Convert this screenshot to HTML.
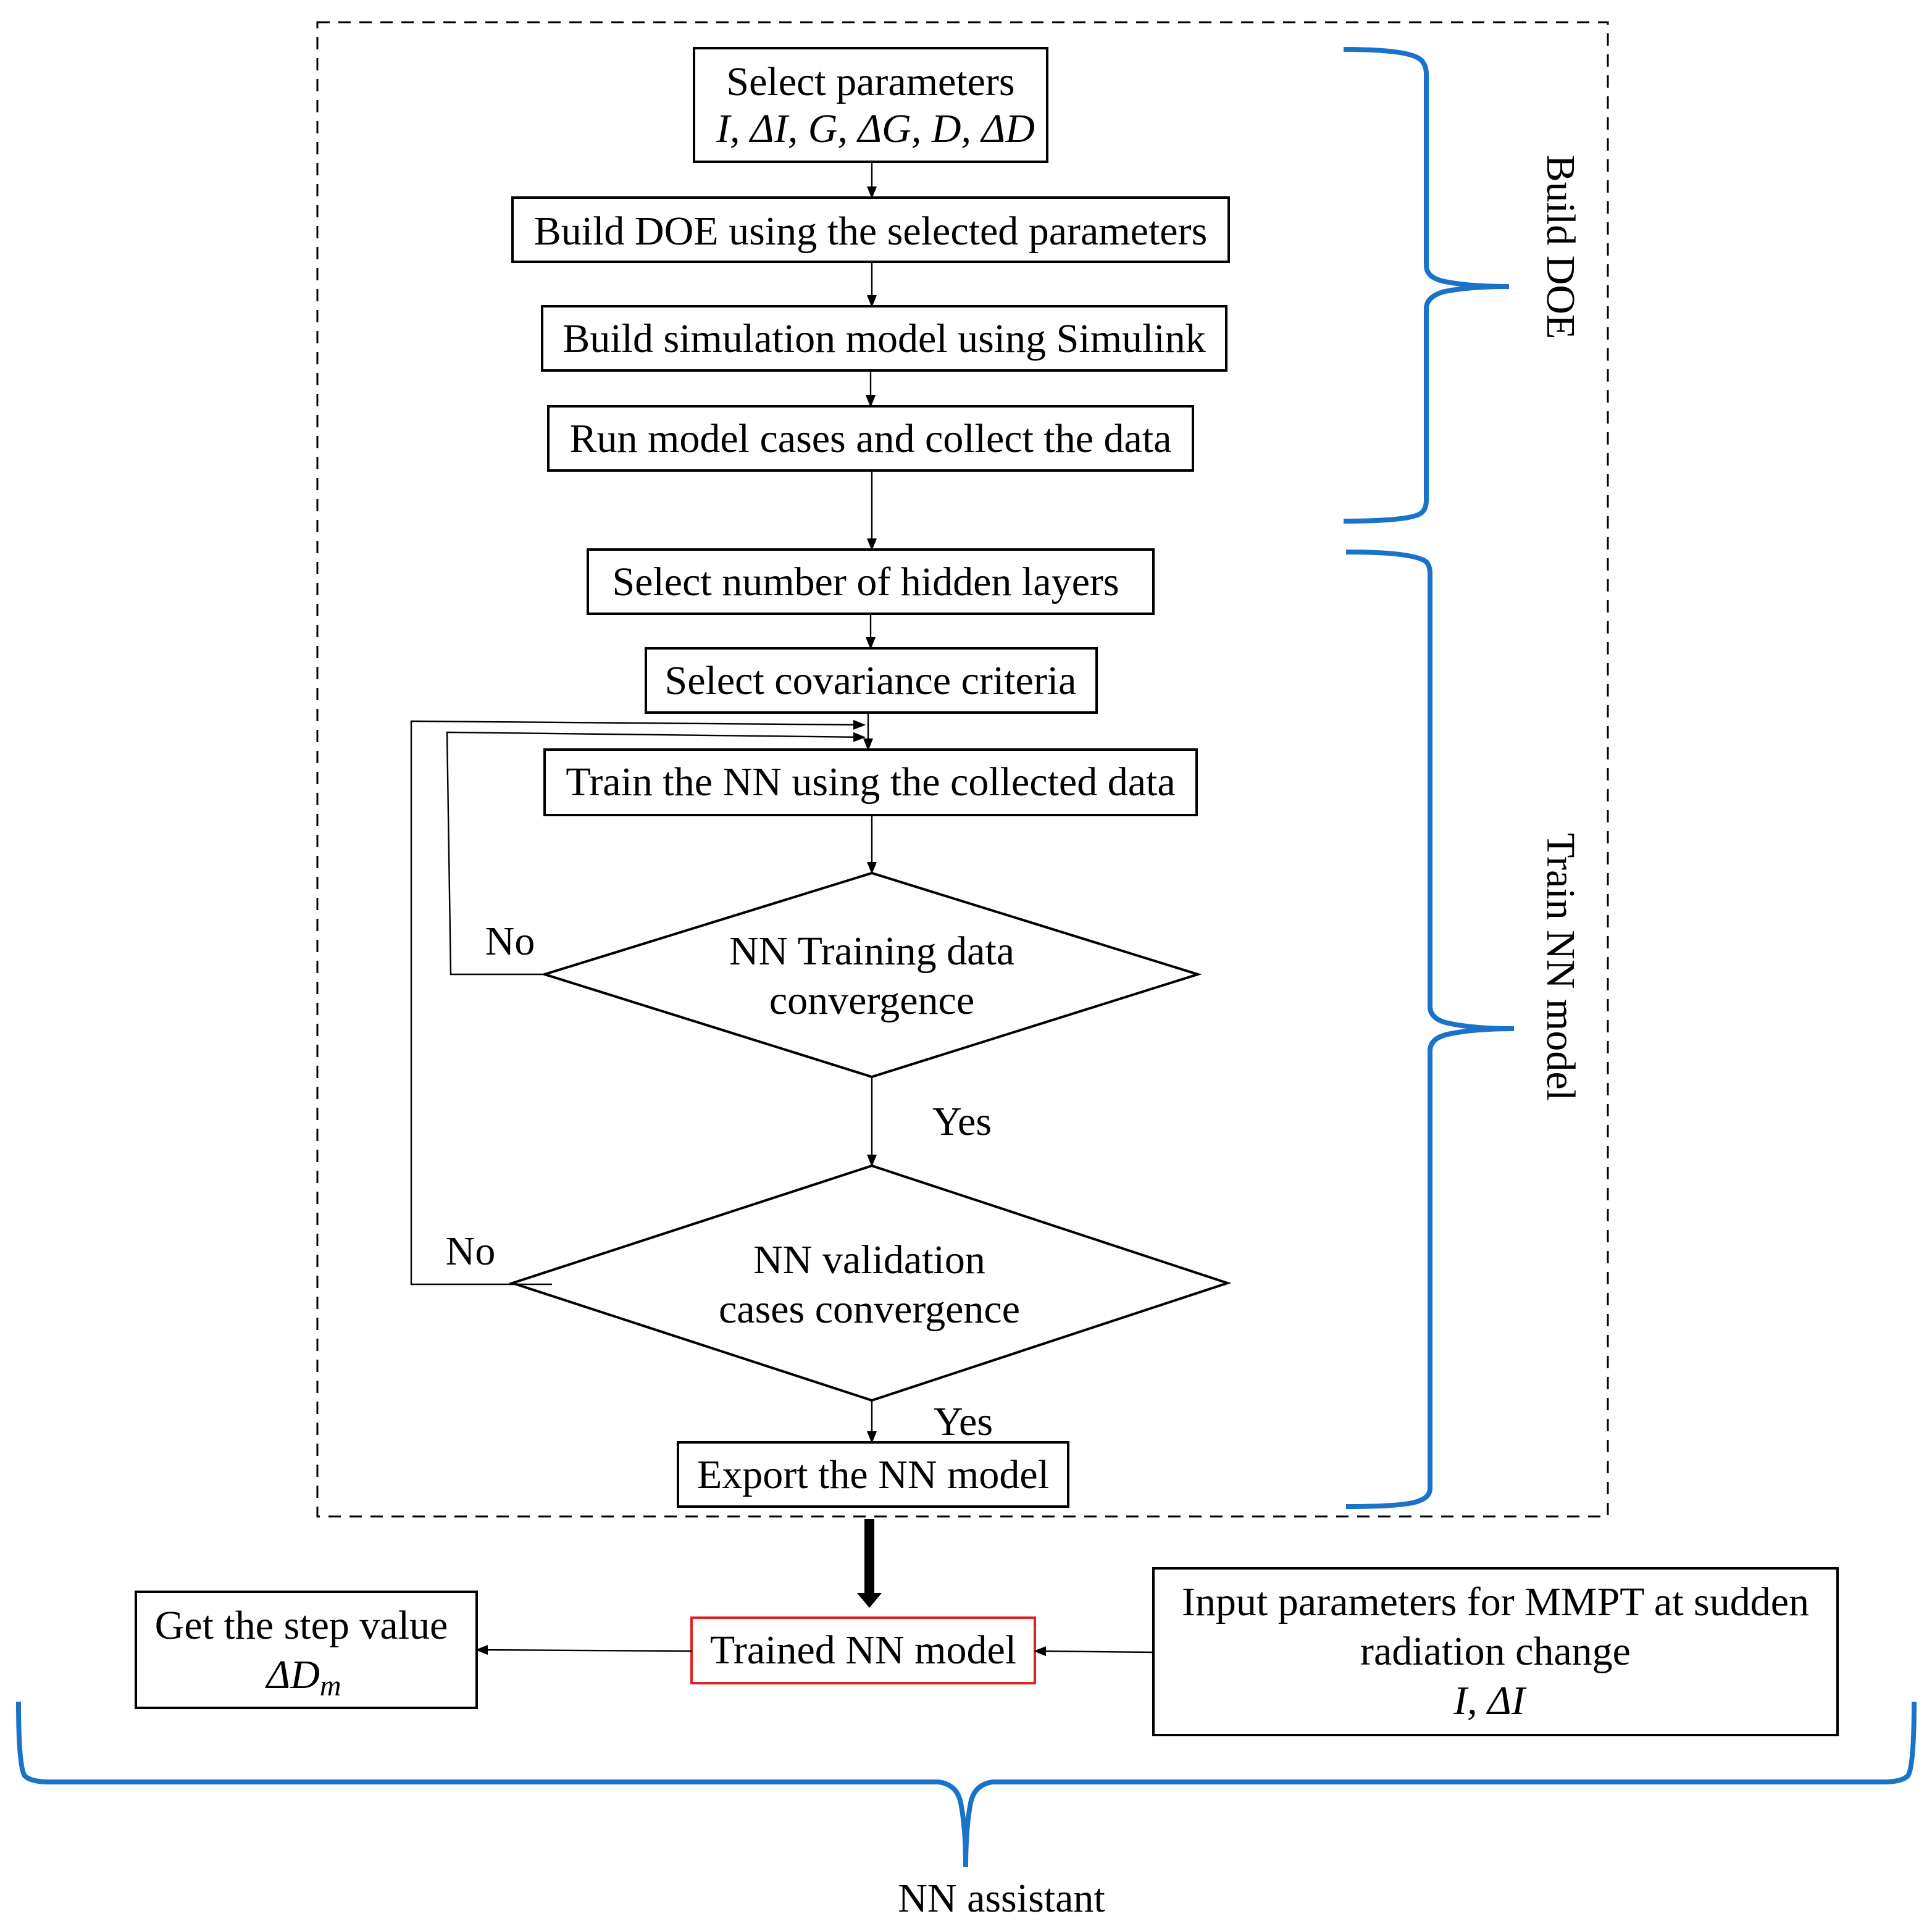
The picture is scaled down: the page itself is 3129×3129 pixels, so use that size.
<!DOCTYPE html>
<html><head><meta charset="utf-8"><style>
html,body{margin:0;padding:0;background:#fff;}
svg{display:block;}
text{font-family:"Liberation Serif",serif;font-size:33px;fill:#000;}
.it{font-style:italic;}
</style></head><body>
<svg width="3129" height="3129" viewBox="0 0 1564.5 1564.5" xmlns="http://www.w3.org/2000/svg">
<defs>
<marker id="a" markerWidth="10" markerHeight="10" refX="9" refY="5" orient="auto" markerUnits="userSpaceOnUse">
<path d="M0,1 L10,5 L0,9 Z" fill="#000"/></marker>
</defs>
<rect x="257" y="18" width="1045" height="1210" fill="none" stroke="#000" stroke-width="1.5" stroke-dasharray="10,7"/>
<g fill="none" stroke="#000" stroke-width="2">
<rect x="562" y="39" width="286" height="92"/>
<rect x="415" y="160" width="580" height="52"/>
<rect x="439" y="248" width="554" height="52"/>
<rect x="444" y="329" width="522" height="52"/>
<rect x="476" y="445" width="458" height="52"/>
<rect x="523" y="525" width="365" height="52"/>
<rect x="441" y="607" width="528" height="53"/>
<path d="M441,789 L706,707 L970,789 L706,872 Z"/>
<path d="M415,1039 L706,944 L994,1039 L706,1134 Z"/>
<rect x="549" y="1168" width="316" height="52"/>
<rect x="110" y="1289" width="276" height="94"/>
<rect x="934" y="1270" width="554" height="135"/>
</g>
<rect x="560" y="1310" width="278" height="53" fill="none" stroke="#e02020" stroke-width="2"/>
<g fill="none" stroke="#000" stroke-width="1.2" marker-end="url(#a)">
<line x1="706" y1="131" x2="706" y2="160"/>
<line x1="706" y1="212" x2="706" y2="248"/>
<line x1="705" y1="300" x2="705" y2="329"/>
<line x1="706" y1="381" x2="706" y2="445"/>
<line x1="705" y1="497" x2="705" y2="525"/>
<line x1="703" y1="577" x2="703" y2="607"/>
<line x1="706" y1="660" x2="706" y2="707"/>
<line x1="706" y1="872" x2="706" y2="944"/>
<line x1="706" y1="1134" x2="706" y2="1168"/>
<line x1="560" y1="1337" x2="386" y2="1336"/>
<line x1="934" y1="1338" x2="838" y2="1337"/>
<polyline points="441,789 365,789 362,593 700,597"/>
<polyline points="447,1040 333,1040 333,584 700,587"/>
</g>
<path d="M700,1230 V1290 H694 L704,1302 L714,1290 H708 V1230 Z" fill="#000"/>
<g fill="none" stroke="#1a73c9" stroke-width="4">
<path d="M1088,40 Q1140,40 1150,48 Q1155,52 1155,60 V215 Q1155,225 1170,228 Q1190,232 1222,232 Q1190,232 1170,236 Q1155,240 1155,250 V405 Q1155,413 1150,416 Q1140,422 1088,422"/>
<path d="M1090,447 Q1145,447 1155,455 Q1158,458 1158,465 V815 Q1158,826 1175,829 Q1195,833 1226,833 Q1195,833 1175,837 Q1158,840 1158,851 V1205 Q1158,1212 1150,1215 Q1140,1220 1090,1220"/>
<path d="M15,1378 Q15,1430 20,1438 Q25,1443 40,1443 H760 Q775,1445 778,1460 Q782,1480 782,1512 Q782,1480 786,1460 Q789,1445 804,1443 H1525 Q1540,1443 1545,1438 Q1550,1430 1550,1378"/>
</g>
<g text-anchor="middle">
<text x="705" y="77">Select parameters</text>
<text x="709" y="115" class="it">I, ΔI, G, ΔG, D, ΔD</text>
<text x="705" y="198">Build DOE using the selected parameters</text>
<text x="716" y="285">Build simulation model using Simulink</text>
<text x="705" y="366">Run model cases and collect the data</text>
<text x="701" y="482">Select number of hidden layers</text>
<text x="705" y="562">Select covariance criteria</text>
<text x="705" y="644">Train the NN using the collected data</text>
<text x="706" y="781">NN Training data</text>
<text x="706" y="821">convergence</text>
<text x="704" y="1031">NN validation</text>
<text x="704" y="1071">cases convergence</text>
<text x="707" y="1205">Export the NN model</text>
<text x="699" y="1347">Trained NN model</text>
<text x="244" y="1327">Get the step value</text>
<text x="246" y="1367" class="it">ΔD<tspan font-size="24" dy="6">m</tspan></text>
<text x="1211" y="1308">Input parameters for MMPT at sudden</text>
<text x="1211" y="1348">radiation change</text>
<text x="1206" y="1388" class="it">I, ΔI</text>
<text x="811" y="1548">NN assistant</text>
<text x="413" y="773">No</text>
<text x="381" y="1024">No</text>
<text x="779" y="919">Yes</text>
<text x="780" y="1162">Yes</text>
<text transform="translate(1253,200) rotate(90)">Build DOE</text>
<text transform="translate(1253,783) rotate(90)">Train NN model</text>
</g>
</svg>
</body></html>
